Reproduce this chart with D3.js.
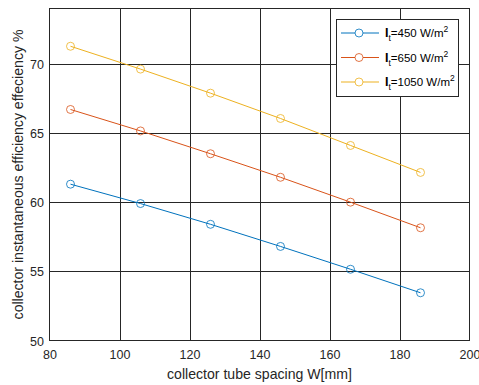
<!DOCTYPE html>
<html><head><meta charset="utf-8">
<script src="https://cdn.jsdelivr.net/npm/d3@7"></script>
<style>body{margin:0;background:#fff}svg{display:block}text{font-family:"Liberation Sans",Arial,sans-serif}</style>
</head><body><svg id="c" width="479" height="385"></svg>
<script>
const spacing = [86, 106, 126, 146, 166, 186];
const eff450 = [61.3, 59.9, 58.4, 56.8, 55.15, 53.45];
const eff650 = [66.7, 65.15, 63.5, 61.8, 60.0, 58.15];
const eff1050 = [71.27, 69.62, 67.88, 66.05, 64.1, 62.15];
const xTicks = [80, 100, 120, 140, 160, 180, 200];
const yTicks = [50, 55, 60, 65, 70];
const seriesNames = ["450", "650", "1050"];
const colors = ["#0072BD", "#D95319", "#EDB120"];
const series = [eff450, eff650, eff1050];

const svg = d3.select("#c");
const L = 49.5, R = 469.5, T = 8.5, B = 340.5;
const x = d3.scaleLinear().domain([80, 200]).range([L, R]);
const y = d3.scaleLinear().domain([50, 74]).range([B, T]);

svg.append("rect").attr("x", L).attr("y", T).attr("width", R - L).attr("height", B - T).attr("fill", "#fff");

// grid
const g = svg.append("g");
xTicks.slice(1, -1).forEach(t => g.append("line").attr("x1", Math.round(x(t)) + 0.5).attr("x2", Math.round(x(t)) + 0.5).attr("y1", T).attr("y2", B).attr("stroke", "#262626").attr("stroke-width", 1));
yTicks.slice(1).forEach(t => g.append("line").attr("x1", L).attr("x2", R).attr("y1", Math.round(y(t)) + 0.5).attr("y2", Math.round(y(t)) + 0.5).attr("stroke", "#262626").attr("stroke-width", 1));

// axes
const xa = svg.append("g").attr("transform", `translate(0,${B})`).call(d3.axisBottom(x).tickValues(xTicks).tickSize(0).tickPadding(0));
const ya = svg.append("g").attr("transform", `translate(${L},0)`).call(d3.axisLeft(y).tickValues(yTicks).tickSize(0).tickPadding(5.5));
[xa, ya].forEach(a => { a.select(".domain").remove(); a.selectAll("text").attr("font-size", 12.5).attr("fill", "#262626").style("font-family", '"Liberation Sans",Arial,sans-serif'); });
xa.selectAll("text").attr("y", 18).attr("dy", null);
ya.selectAll("text").attr("dy", "0.36em");

svg.append("rect").attr("x", L).attr("y", T).attr("width", R - L).attr("height", B - T).attr("fill", "none").attr("stroke", "#262626").attr("stroke-width", 1);

// series
const line = d3.line().x((d, i) => x(spacing[i])).y(d => y(d));
series.forEach((s, k) => {
  svg.append("path").attr("d", line(s)).attr("fill", "none").attr("stroke", colors[k]).attr("stroke-width", 1);
  svg.selectAll(null).data(s).enter().append("circle")
    .attr("cx", (d, i) => x(spacing[i])).attr("cy", d => y(d)).attr("r", 4)
    .attr("fill", "none").attr("stroke", colors[k]).attr("stroke-width", 0.8);
});

// labels sized to target widths
function fit(sel, target, base) {
  sel.attr("font-size", base);
  const w = sel.node().getComputedTextLength();
  sel.attr("font-size", base * target / w);
}
const xl = svg.append("text").attr("x", (L + R) / 2).attr("y", 379).attr("text-anchor", "middle").attr("fill", "#262626").text("collector tube spacing W[mm]");
fit(xl, 185, 13);
const yl = svg.append("text").attr("transform", `translate(23,${(T + B) / 2}) rotate(-90)`).attr("text-anchor", "middle").attr("fill", "#262626").text("collector instantaneous efficiency effeciency %");
fit(yl, 290, 13);

// legend
const lg = svg.append("g");
lg.append("rect").attr("x", 336.5).attr("y", 19.5).attr("width", 122).attr("height", 77).attr("fill", "#fff").attr("stroke", "#262626").attr("stroke-width", 1);
seriesNames.forEach((n, k) => {
  const yy = 33 + k * 24.5;
  lg.append("line").attr("x1", 341).attr("x2", 379).attr("y1", yy).attr("y2", yy).attr("stroke", colors[k]).attr("stroke-width", 1);
  lg.append("circle").attr("cx", 359).attr("cy", yy).attr("r", 4).attr("fill", "#fff").attr("stroke", colors[k]).attr("stroke-width", 0.8);
  const t = lg.append("text").attr("x", 385).attr("y", yy + 4).attr("font-size", 11.5).attr("fill", "#000");
  t.append("tspan").attr("font-weight", "bold").attr("font-size", 12.5).text("I");
  t.append("tspan").attr("font-size", 8.5).attr("dy", 4).text("t");
  t.append("tspan").attr("dy", -4).text("=" + n + " W/m");
  t.append("tspan").attr("font-size", 8.5).attr("dy", -5).text("2");
});
</script></body></html>
